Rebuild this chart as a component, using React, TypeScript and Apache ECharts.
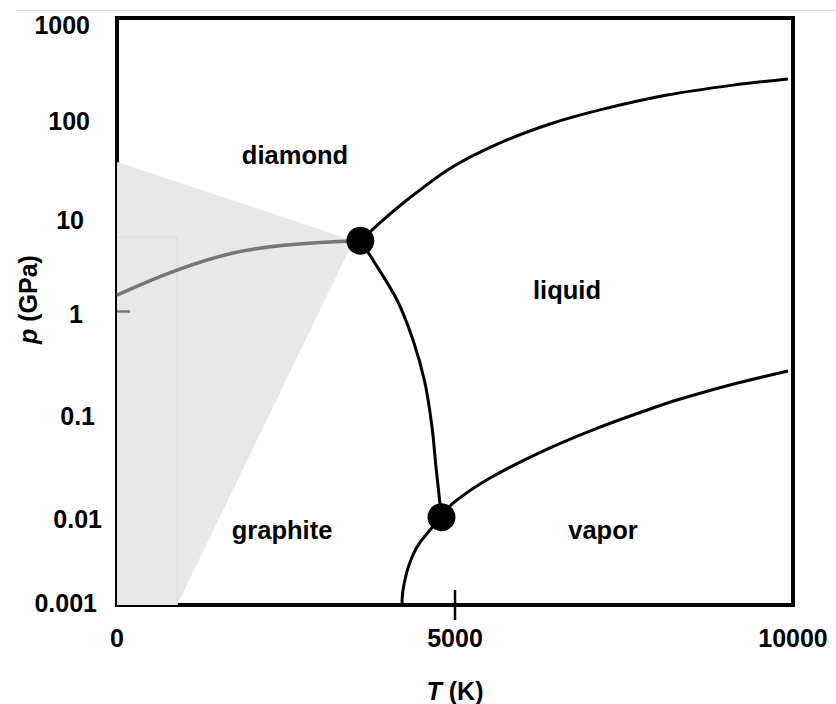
import React, { useEffect, useRef } from "react";
import * as echarts from "echarts";

const FONT = '"Liberation Sans", Arial, Helvetica, sans-serif';

// Axis tick labels
const X_TICK_LABELS = ["0", "5000", "10000"];
const Y_TICK_LABELS = ["0.001", "0.01", "0.1", "1", "10", "100", "1000"];

// Shaded (metastable) region vertices
const SHADE_T = [0, 3500, 890, 0];
const SHADE_P = [33.7, 5.3, 0.001, 0.001];

// Faint rectangle inside the shaded region
const RECT_T = [0, 890, 890];
const RECT_P = [5.77, 5.77, 0.001];

// Diamond / graphite boundary (gray)
const DG_T = [0, 888, 1716, 2515, 3600];
const DG_P = [1.47, 2.65, 3.96, 4.78, 5.3];

// Diamond / liquid boundary
const DL_T = [3600, 3935, 4290, 4926, 5666, 6405, 7145, 8136, 9112, 9926];
const DL_P = [5.3, 8.6, 13.8, 29.0, 52.8, 82.5, 115, 163, 206, 238];

// Graphite / liquid boundary
const GL_T = [3600, 3787, 4142, 4379, 4556, 4660, 4719, 4800];
const GL_P = [5.3, 3.36, 1.31, 0.511, 0.186, 0.0659, 0.0257, 0.0079];

// Liquid / vapor boundary
const LV_T = [4800, 4970, 5518, 6405, 7145, 7885, 8284, 9068, 9926];
const LV_P = [0.0079, 0.011, 0.0199, 0.0403, 0.0659, 0.1007, 0.1245, 0.1774, 0.2466];

// Graphite / vapor boundary
const GV_T = [4800, 4630, 4438, 4305, 4231, 4216];
const GV_P = [0.0079, 0.00584, 0.00392, 0.00239, 0.00142, 0.00105];

// Triple points
const TRIPLE_T = [3600, 4800];
const TRIPLE_P = [5.3, 0.0079];

// Region labels
const REGION_NAMES = ["diamond", "liquid", "graphite", "vapor"];
const REGION_T = [2633, 6657, 2441, 7189];
const REGION_P = [39.8, 1.66, 0.00584, 0.00584];

// Single ticks drawn on the frame
const YTICK_BLACK_T = [-251, 0];
const YTICK_GRAY_T = [0, 192];
const YTICK_P = [1, 1];
const XTICK_T = [5000, 5000];
const XTICK_P = [0.0007, 0.00142];

const zip = (a: number[], b: number[]) => a.map((v, i) => [v, b[i]]);

// per-label nudges: [vertical shift, right padding]
const Y_NUDGE: [number, number][] = [
  [-2.5, 5],
  [12, 0],
  [7, 7],
  [2.5, 19],
  [6.5, 18],
  [5.5, 12],
  [7, 12],
];

export default function App() {
  const ref = useRef<HTMLDivElement>(null);

  useEffect(() => {
    if (!ref.current) return;
    const chart = echarts.init(ref.current, null, { renderer: "svg" });

    const yRich: Record<string, any> = {};
    Y_NUDGE.forEach(([s, r], i) => {
      yRich["l" + i] = {
        fontSize: 25,
        fontWeight: "bold",
        color: "#000",
        fontFamily: FONT,
        padding: [s > 0 ? 2 * s : 0, r, s < 0 ? -2 * s : 0, 0],
      };
    });

    const blackLine = (data: number[][]) => ({
      type: "line",
      data,
      symbol: "none",
      smooth: 0.3,
      lineStyle: { color: "#000", width: 3 },
      z: 5,
      silent: true,
    });

    const nameRich = {
      i: { fontSize: 25, fontWeight: "bold", fontStyle: "italic", color: "#000", fontFamily: FONT },
      b: { fontSize: 25, fontWeight: "bold", color: "#000", fontFamily: FONT },
    };

    const option: any = {
      animation: false,
      backgroundColor: "#fff",
      textStyle: { fontFamily: FONT },
      grid: {
        left: 117,
        top: 18,
        width: 676,
        height: 587,
        show: true,
        borderColor: "#000",
        borderWidth: 4,
        backgroundColor: "transparent",
        containLabel: false,
        outerBoundsMode: "none",
      },
      xAxis: {
        type: "value",
        min: 0,
        max: 10000,
        interval: 5000,
        axisLine: { show: false },
        axisTick: { show: false },
        splitLine: { show: false },
        axisLabel: {
          fontSize: 25,
          fontWeight: "bold",
          color: "#000",
          fontFamily: FONT,
          margin: 20,
          formatter: (v: number) => X_TICK_LABELS[Math.round(v / 5000)],
        },
        name: "{i|T} {b|(K)}",
        nameLocation: "middle",
        nameGap: 73,
        nameMoveOverlap: false,
        nameTextStyle: {
          fontSize: 25,
          fontWeight: "bold",
          color: "#000",
          fontFamily: FONT,
          rich: nameRich,
        },
      },
      yAxis: {
        type: "log",
        logBase: 10,
        min: 0.001,
        max: 1000,
        splitNumber: 6,
        axisLine: { show: false },
        axisTick: { show: false },
        minorTick: { show: false },
        splitLine: { show: false },
        axisLabel: {
          margin: 15,
          formatter: (v: number) => {
            const i = Math.round(Math.log10(v)) + 3;
            return "{l" + i + "|" + Y_TICK_LABELS[i] + "}";
          },
          rich: yRich,
        },
        name: "{i|p} {b|(GPa)}",
        nameLocation: "middle",
        nameGap: 77,
        nameMoveOverlap: false,
        nameTextStyle: {
          fontSize: 25,
          fontWeight: "bold",
          color: "#000",
          fontFamily: FONT,
          padding: [0, 0, 0, 24],
          rich: nameRich,
        },
      },
      graphic: [
        {
          type: "line",
          shape: { x1: 17, y1: 10.5, x2: 836, y2: 10.5 },
          style: { stroke: "#dadada", lineWidth: 1 },
          silent: true,
        },
      ],
      series: [
        {
          type: "custom",
          data: [[0, 1]],
          silent: true,
          z: 1,
          renderItem: (_params: any, api: any) => ({
            type: "polygon",
            shape: { points: SHADE_T.map((t, i) => api.coord([t, SHADE_P[i]])) },
            style: { fill: "#e8e8e8" },
          }),
        },
        {
          type: "line",
          data: zip(RECT_T, RECT_P),
          symbol: "none",
          lineStyle: { color: "#d8d8d8", width: 1 },
          z: 2,
          silent: true,
        },
        {
          type: "line",
          data: zip(DG_T, DG_P),
          symbol: "none",
          smooth: 0.4,
          lineStyle: { color: "#767676", width: 3.5 },
          z: 4,
          silent: true,
        },
        blackLine(zip(DL_T, DL_P)),
        blackLine(zip(GL_T, GL_P)),
        blackLine(zip(LV_T, LV_P)),
        blackLine(zip(GV_T, GV_P)),
        {
          type: "scatter",
          data: zip(TRIPLE_T, TRIPLE_P),
          symbol: "circle",
          symbolSize: 28,
          itemStyle: { color: "#000", opacity: 1 },
          z: 10,
          silent: true,
        },
        {
          type: "scatter",
          data: REGION_NAMES.map((n, i) => ({ name: n, value: [REGION_T[i], REGION_P[i]] })),
          symbolSize: 1,
          itemStyle: { color: "rgba(0,0,0,0)", opacity: 1 },
          label: {
            show: true,
            position: "inside",
            formatter: (p: any) => p.name,
            fontSize: 25.5,
            fontWeight: "bold",
            color: "#000",
            opacity: 1,
            fontFamily: FONT,
          },
          z: 11,
          silent: true,
        },
        {
          type: "line",
          data: zip(YTICK_BLACK_T, YTICK_P),
          symbol: "none",
          clip: false,
          lineStyle: { color: "#000", width: 2.5 },
          z: 12,
          silent: true,
        },
        {
          type: "line",
          data: zip(YTICK_GRAY_T, YTICK_P),
          symbol: "none",
          clip: false,
          lineStyle: { color: "#777", width: 2.5 },
          z: 12,
          silent: true,
        },
        {
          type: "line",
          data: zip(XTICK_T, XTICK_P),
          symbol: "none",
          clip: false,
          lineStyle: { color: "#000", width: 2.5 },
          z: 12,
          silent: true,
        },
      ],
    };

    chart.setOption(option);
    return () => chart.dispose();
  }, []);

  return (
    <div
      ref={ref}
      style={{ position: "absolute", left: 0, top: 0, width: 836, height: 704 }}
    />
  );
}
